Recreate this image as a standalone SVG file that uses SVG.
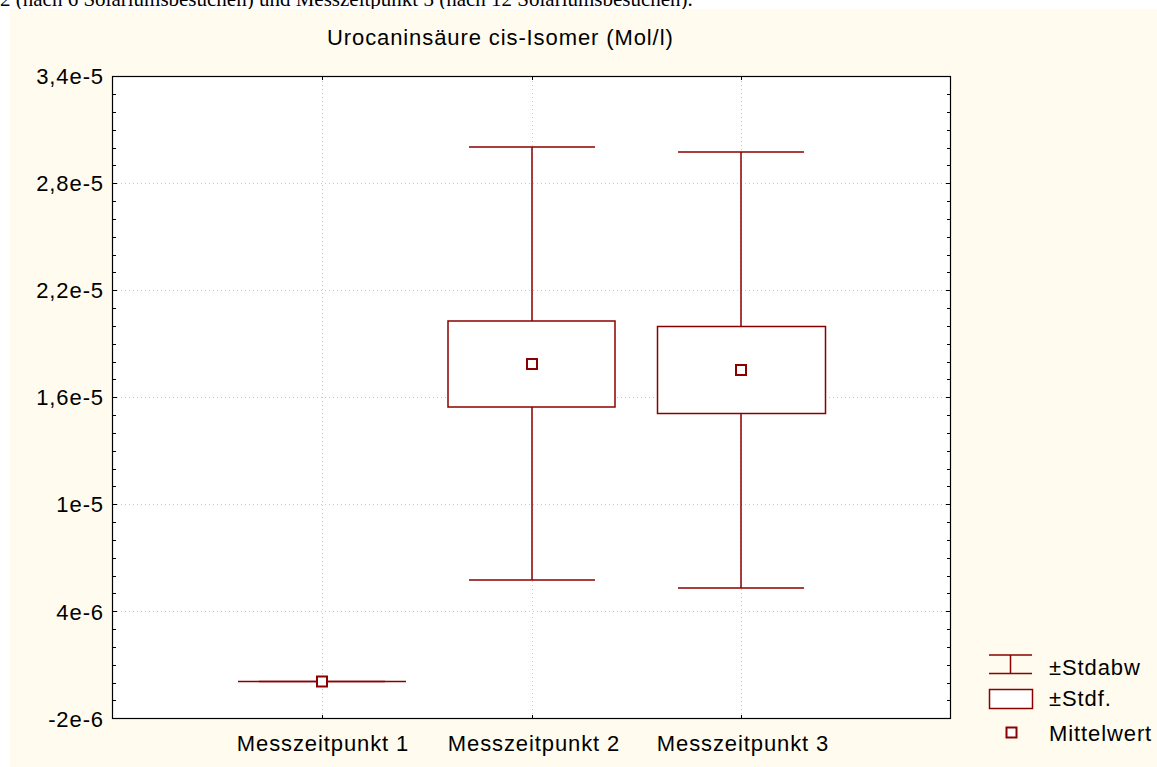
<svg xmlns="http://www.w3.org/2000/svg" width="1157" height="767" viewBox="0 0 1157 767">
<style>
.t{font-family:"Liberation Sans",Arial,sans-serif;font-size:22px;letter-spacing:0.9px;fill:#000}
.yl{text-anchor:end}
.xl{text-anchor:middle}
.grid{stroke:#c8c8c8;stroke-width:1;stroke-dasharray:1,3;fill:none}
.tick{stroke:#000;stroke-width:1}
.dr{stroke:#8b0000;stroke-width:1.5;fill:none}
.box{stroke:#8b0000;stroke-width:1.5;fill:#fff}
.mean{stroke:#8b0000;stroke-width:2;fill:#fff}
</style>
<rect x="0" y="0" width="1157" height="767" fill="#fff"/>
<text x="0" y="6" font-family="'Liberation Serif','Times New Roman',serif" font-size="21" fill="#000">2 (nach 6 Solariumsbesuchen) und Messzeitpunkt 3 (nach 12 Solariumsbesuchen).</text>
<rect x="10" y="9" width="1147" height="758" fill="#fffcef"/>
<g id="plot-area">
<rect x="112.5" y="76.5" width="838" height="642" fill="#fff"/>
<g class="grid">
<line x1="113" y1="183.5" x2="950" y2="183.5"/>
<line x1="113" y1="290.5" x2="950" y2="290.5"/>
<line x1="113" y1="397.5" x2="950" y2="397.5"/>
<line x1="113" y1="504.5" x2="950" y2="504.5"/>
<line x1="113" y1="611.5" x2="950" y2="611.5"/>
<line x1="322.5" y1="77" x2="322.5" y2="718"/>
<line x1="532.5" y1="77" x2="532.5" y2="718"/>
<line x1="741.5" y1="77" x2="741.5" y2="718"/>
</g>
<g class="tick">
<path d="M113 94.5h3M113 112.5h3M113 130.5h3M113 148.5h3M113 165.5h3M113 183.5h4M113 201.5h3M113 219.5h3M113 237.5h3M113 255.5h3M113 272.5h3M113 290.5h4M113 308.5h3M113 326.5h3M113 344.5h3M113 362.5h3M113 379.5h3M113 397.5h4M113 415.5h3M113 433.5h3M113 451.5h3M113 469.5h3M113 486.5h3M113 504.5h4M113 522.5h3M113 540.5h3M113 558.5h3M113 576.5h3M113 593.5h3M113 611.5h4M113 629.5h3M113 647.5h3M113 665.5h3M113 683.5h3M113 700.5h3"/>
<path d="M950 94.5h-3M950 112.5h-3M950 130.5h-3M950 148.5h-3M950 165.5h-3M950 183.5h-4M950 201.5h-3M950 219.5h-3M950 237.5h-3M950 255.5h-3M950 272.5h-3M950 290.5h-4M950 308.5h-3M950 326.5h-3M950 344.5h-3M950 362.5h-3M950 379.5h-3M950 397.5h-4M950 415.5h-3M950 433.5h-3M950 451.5h-3M950 469.5h-3M950 486.5h-3M950 504.5h-4M950 522.5h-3M950 540.5h-3M950 558.5h-3M950 576.5h-3M950 593.5h-3M950 611.5h-4M950 629.5h-3M950 647.5h-3M950 665.5h-3M950 683.5h-3M950 700.5h-3"/>
<path d="M322.5 718v-3M532.5 718v-3M741.5 718v-3M322.5 77v3M532.5 77v3M741.5 77v3"/>
</g>
<rect x="112.5" y="76.5" width="838" height="642" fill="none" stroke="#000" stroke-width="1.2"/>
</g>
<g id="title"><text class="t" x="327" y="45">Urocaninsäure cis-Isomer (Mol/l)</text></g>
<g id="y-axis-labels">
<text class="t yl" x="104" y="84">3,4e-5</text>
<text class="t yl" x="104" y="191">2,8e-5</text>
<text class="t yl" x="104" y="298">2,2e-5</text>
<text class="t yl" x="104" y="405">1,6e-5</text>
<text class="t yl" x="104" y="512">1e-5</text>
<text class="t yl" x="104" y="620">4e-6</text>
<text class="t yl" x="104" y="727">-2e-6</text>
</g>
<g id="x-axis-labels">
<text class="t xl" x="323" y="751">Messzeitpunkt 1</text>
<text class="t xl" x="534" y="751">Messzeitpunkt 2</text>
<text class="t xl" x="743" y="751">Messzeitpunkt 3</text>
</g>
<g id="connectors">
<path class="dr" d="M532 147v174M532 407v173M469 147h126M469 580h126"/>
<path class="dr" d="M741 152v174M741 413v175M678 152h126M678 588h126"/>
<path class="dr" d="M238 681.5h168"/>
</g>
<g id="group1">
<path class="dr" d="M259 681.5h126"/>
<rect class="mean" x="317" y="676.5" width="10" height="10"/>
</g>
<g id="group2">
<rect class="box" x="448" y="321" width="167" height="86"/>
<rect class="mean" x="527" y="359" width="10" height="10"/>
</g>
<g id="group3">
<rect class="box" x="657.5" y="326.5" width="168" height="87"/>
<rect class="mean" x="736" y="365" width="10" height="10"/>
</g>
<g id="legend">
<path class="dr" d="M989 655h43M989 673.5h43M1010.5 655v18.5"/>
<text class="t" x="1049" y="675">±Stdabw</text>
<rect class="box" x="989.5" y="689.5" width="43" height="19"/>
<text class="t" x="1049" y="706">±Stdf.</text>
<rect class="mean" x="1006.5" y="727.5" width="10" height="10"/>
<text class="t" x="1049" y="741">Mittelwert</text>
</g>
</svg>
